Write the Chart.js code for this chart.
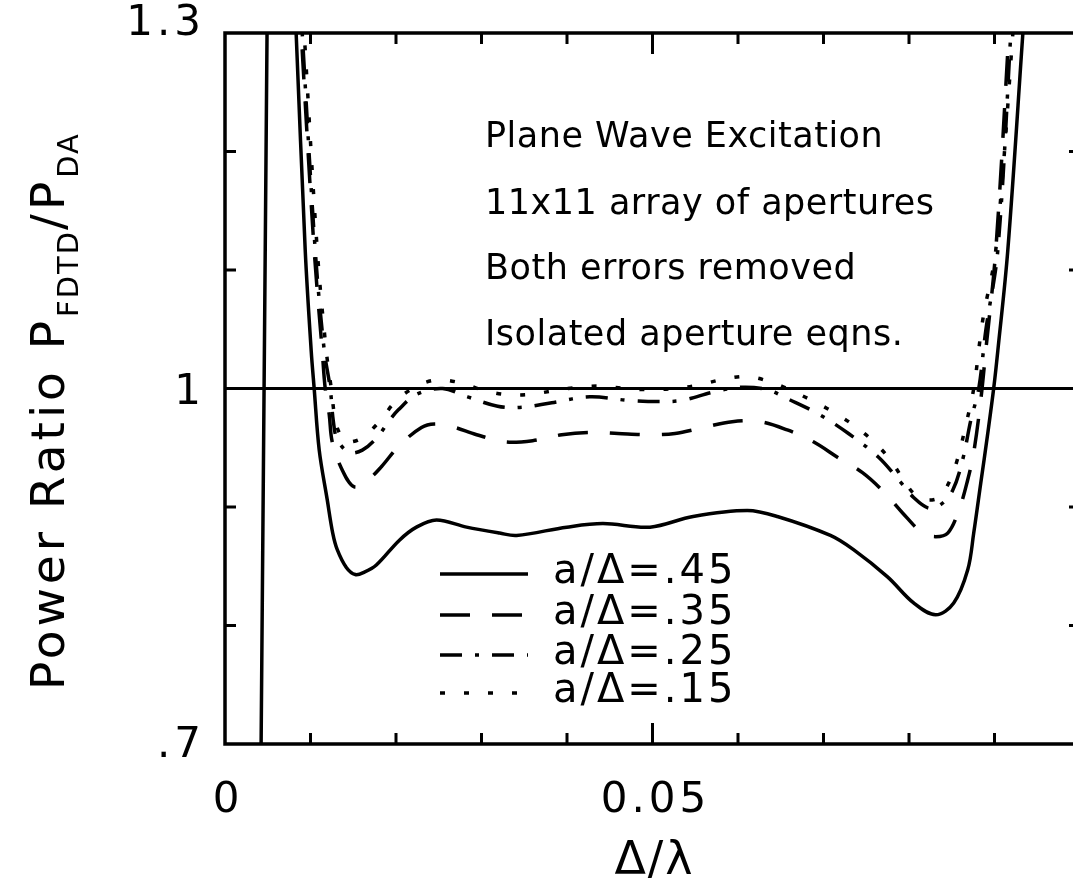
<!DOCTYPE html>
<html><head><meta charset="utf-8">
<script src="https://cdn.jsdelivr.net/npm/chart.js@4.4.1/dist/chart.umd.min.js"></script>
<style>
html,body{margin:0;padding:0;background:#fff;overflow:hidden;width:1073px;height:888px}
#wrap{position:absolute;left:0;top:0;width:1090px;height:888px}
canvas{display:block}
</style></head>
<body><div id="wrap"><canvas id="c" width="1090" height="888" style="width:1090px;height:888px"></canvas></div>
<script>
// ---- data ----
const seriesLabels = ['a/\u0394=.45', 'a/\u0394=.35', 'a/\u0394=.25', 'a/\u0394=.15'];

// a/Δ = .45 (solid) – first two points are the near-vertical branch at small Δ/λ, then a gap
const x45 = [0.0042, 0.00494, 0.006, 0.0081, 0.00832, 0.00938, 0.01008, 0.01043, 0.01102, 0.01196, 0.0126, 0.01313, 0.01419, 0.01524, 0.0163, 0.0177, 0.0204, 0.02239, 0.02474, 0.02825, 0.03212, 0.03411, 0.03998, 0.0442, 0.04971, 0.05475, 0.06108, 0.0646, 0.07081, 0.07351, 0.07749, 0.08054, 0.08312, 0.08523, 0.08687, 0.08757, 0.08839, 0.08921, 0.08992, 0.09039, 0.09156, 0.09332, 0.0936];
const y45 = [0.68, 1.32, null, 1.33, 1.30, 1.117, 1.032, 1.000, 0.948, 0.906, 0.878, 0.864, 0.849, 0.843, 0.845, 0.851, 0.872, 0.883, 0.889, 0.883, 0.878, 0.876, 0.883, 0.886, 0.883, 0.892, 0.897, 0.892, 0.876, 0.864, 0.841, 0.819, 0.809, 0.819, 0.847, 0.878, 0.920, 0.962, 1.001, 1.032, 1.117, 1.30, 1.33];

// a/Δ = .35 (dashed)
const x35 = [0.0087, 0.00891, 0.01043, 0.01137, 0.01172, 0.01219, 0.01254, 0.0136, 0.01512, 0.01688, 0.01829, 0.0204, 0.02298, 0.0245, 0.02649, 0.02943, 0.03271, 0.03599, 0.03939, 0.04267, 0.04596, 0.04936, 0.05264, 0.05592, 0.05932, 0.0626, 0.06577, 0.06882, 0.07163, 0.07456, 0.07702, 0.07925, 0.08159, 0.08312, 0.08453, 0.08582, 0.08687, 0.08757, 0.08839, 0.08898, 0.09015, 0.09168, 0.0919];
const y35 = [1.33, 1.30, 1.117, 1.032, 1.000, 0.978, 0.955, 0.933, 0.917, 0.924, 0.934, 0.952, 0.967, 0.970, 0.968, 0.961, 0.955, 0.956, 0.961, 0.963, 0.962, 0.961, 0.962, 0.967, 0.972, 0.972, 0.965, 0.955, 0.942, 0.929, 0.913, 0.895, 0.878, 0.875, 0.878, 0.897, 0.923, 0.946, 0.990, 1.032, 1.117, 1.30, 1.33];

// a/Δ = .25 (dash-dot)
const x25 = [0.0088, 0.00903, 0.01055, 0.01161, 0.01231, 0.01266, 0.01313, 0.01454, 0.01606, 0.01782, 0.01911, 0.02028, 0.02239, 0.02544, 0.02837, 0.03189, 0.03447, 0.03822, 0.04267, 0.04713, 0.05064, 0.05346, 0.05709, 0.06026, 0.06342, 0.06589, 0.06928, 0.07292, 0.07644, 0.07901, 0.08054, 0.0823, 0.0837, 0.0851, 0.08628, 0.08722, 0.08816, 0.08898, 0.09039, 0.09191, 0.0921];
const y25 = [1.33, 1.30, 1.117, 1.032, 1.000, 0.973, 0.957, 0.946, 0.948, 0.959, 0.972, 0.982, 0.995, 1.000, 0.993, 0.985, 0.984, 0.988, 0.993, 0.990, 0.989, 0.990, 0.997, 1.001, 0.999, 0.991, 0.979, 0.962, 0.942, 0.921, 0.908, 0.899, 0.902, 0.914, 0.940, 0.973, 1.000, 1.049, 1.117, 1.30, 1.33];

// a/Δ = .15 (dotted)
const x15 = [0.0090, 0.00926, 0.01079, 0.01184, 0.01243, 0.0129, 0.01348, 0.01419, 0.01594, 0.01805, 0.01981, 0.02192, 0.0245, 0.02743, 0.03001, 0.03271, 0.03564, 0.03834, 0.04127, 0.04408, 0.04678, 0.04971, 0.05264, 0.05545, 0.05838, 0.0612, 0.06401, 0.06659, 0.06917, 0.07163, 0.07409, 0.07632, 0.07808, 0.0796, 0.08077, 0.08195, 0.0835, 0.0847, 0.0857, 0.08664, 0.08757, 0.08863, 0.09015, 0.09215, 0.0923];
const y15 = [1.33, 1.30, 1.117, 1.032, 1.000, 0.973, 0.961, 0.955, 0.958, 0.972, 0.988, 1.000, 1.007, 1.005, 0.999, 0.995, 0.995, 0.998, 1.001, 1.002, 1.000, 0.999, 1.000, 1.003, 1.008, 1.010, 1.005, 0.997, 0.988, 0.978, 0.966, 0.952, 0.937, 0.920, 0.910, 0.906, 0.908, 0.921, 0.941, 0.969, 1.000, 1.058, 1.117, 1.30, 1.33];

// reference line P_FDTD/P_DA = 1
const refX = [0, 0.1];
const refY = [1, 1];

// axes
const xRange = [0, 0.1];
const yRange = [0.7, 1.3];
const xLabelValues = [0, 0.05];
const xLabelTexts = ['0', '0.05'];
const xMajorTicks = [0.05];
const xMinorTicks = [0.01, 0.02, 0.03, 0.04, 0.06, 0.07, 0.08, 0.09];
const yLabelValues = [1.3, 1.0, 0.7];
const yLabelTexts = ['1.3', '1', '.7'];
const yMinorTicks = [0.8, 0.9, 1.1, 1.2];
const notes = ['Plane Wave Excitation', '11x11 array of apertures', 'Both errors removed', 'Isolated aperture eqns.'];

// ---- chart ----
const pts = (xs, ys) => xs.map((x, i) => ({ x: x, y: ys[i] }));
const dashes = [[], [30, 22], [22, 13, 4, 13], [5, 19]];
const FONT = '"DejaVu Sans", sans-serif';

const deco = {
  id: 'deco',
  afterDatasetsDraw(chart) {
    const ctx = chart.ctx, a = chart.chartArea, xs = chart.scales.x, ys = chart.scales.y;
    ctx.save();
    ctx.strokeStyle = '#000'; ctx.fillStyle = '#000';
    // frame
    ctx.lineWidth = 3.5; ctx.setLineDash([]);
    ctx.strokeRect(a.left, a.top, a.right - a.left, a.bottom - a.top);
    // ticks
    ctx.lineWidth = 3;
    ctx.beginPath();
    xMinorTicks.forEach(v => { const p = xs.getPixelForValue(v);
      ctx.moveTo(p, a.bottom); ctx.lineTo(p, a.bottom - 11);
      ctx.moveTo(p, a.top); ctx.lineTo(p, a.top + 11); });
    xMajorTicks.forEach(v => { const p = xs.getPixelForValue(v);
      ctx.moveTo(p, a.bottom); ctx.lineTo(p, a.bottom - 21);
      ctx.moveTo(p, a.top); ctx.lineTo(p, a.top + 21); });
    yMinorTicks.forEach(v => { const p = ys.getPixelForValue(v);
      ctx.moveTo(a.left, p); ctx.lineTo(a.left + 11, p);
      ctx.moveTo(a.right, p); ctx.lineTo(a.right - 11, p); });
    ctx.stroke();

    // tick labels
    ctx.font = '42px ' + FONT;
    ctx.letterSpacing = '4px';
    ctx.textBaseline = 'alphabetic'; ctx.textAlign = 'center';
    xLabelValues.forEach((v, i) => ctx.fillText(xLabelTexts[i], xs.getPixelForValue(v) + 3, a.bottom + 68));
    ctx.textAlign = 'right';
    const yOff = [2, 15, 13];
    yLabelValues.forEach((v, i) => ctx.fillText(yLabelTexts[i], a.left - 20, ys.getPixelForValue(v) + yOff[i]));

    // x title
    ctx.textAlign = 'center'; ctx.textBaseline = 'alphabetic';
    ctx.font = '46px ' + FONT; ctx.letterSpacing = '2px';
    ctx.fillText('\u0394/\u03bb', xs.getPixelForValue(0.05) + 2, 874);

    // y title with subscripts
    ctx.save();
    ctx.translate(64, 690); ctx.rotate(-Math.PI / 2);
    ctx.textAlign = 'left'; ctx.textBaseline = 'alphabetic';
    const parts = [['Power Ratio P', 47, 0], ['FDTD', 29, 14], ['/P', 47, 0], ['DA', 29, 14]];
    let cx = 0;
    parts.forEach(([t, s, dy]) => { ctx.font = s + 'px ' + FONT; ctx.letterSpacing = (s > 30 ? 4 : 2) + 'px';
      ctx.fillText(t, cx, dy); cx += ctx.measureText(t).width; });
    ctx.restore();

    // notes
    ctx.font = '35px ' + FONT; ctx.letterSpacing = '0.5px';
    ctx.textAlign = 'left'; ctx.textBaseline = 'middle';
    const noteY = [138, 205, 270, 336];
    notes.forEach((t, i) => ctx.fillText(t, 485, noteY[i]));

    // legend
    const rowY = [574, 615, 655, 693];
    chart.data.datasets.slice(1).forEach((ds, i) => {
      ctx.setLineDash(ds.borderDash || []); ctx.lineWidth = 3.5;
      ctx.beginPath(); ctx.moveTo(440, rowY[i]); ctx.lineTo(528, rowY[i]); ctx.stroke();
      ctx.setLineDash([]);
      ctx.font = '40px ' + FONT; ctx.letterSpacing = '3px';
      ctx.fillText(seriesLabels[i], 553, rowY[i] - 1);
    });
    ctx.restore();
  }
};

const lineDs = (label, data, dash) => ({
  label, data, borderColor: '#000', borderWidth: 3.5, borderDash: dash,
  pointRadius: 0, tension: 0.35, spanGaps: false, clip: 0, fill: false
});

new Chart(document.getElementById('c').getContext('2d'), {
  type: 'line',
  data: {
    datasets: [
      { label: 'ref', data: pts(refX, refY), borderColor: '#000', borderWidth: 3, pointRadius: 0, tension: 0, clip: 0 },
      lineDs(seriesLabels[0], pts(x45, y45), dashes[0]),
      lineDs(seriesLabels[1], pts(x35, y35), dashes[1]),
      lineDs(seriesLabels[2], pts(x25, y25), dashes[2]),
      lineDs(seriesLabels[3], pts(x15, y15), dashes[3])
    ]
  },
  options: {
    responsive: false, animation: false, devicePixelRatio: 1,
    layout: { padding: { left: 225, right: 10, top: 33, bottom: 144 } },
    scales: {
      x: { type: 'linear', min: xRange[0], max: xRange[1], display: false },
      y: { type: 'linear', min: yRange[0], max: yRange[1], display: false }
    },
    plugins: { legend: { display: false }, tooltip: { enabled: false } }
  },
  plugins: [deco]
});
</script>
</body></html>
